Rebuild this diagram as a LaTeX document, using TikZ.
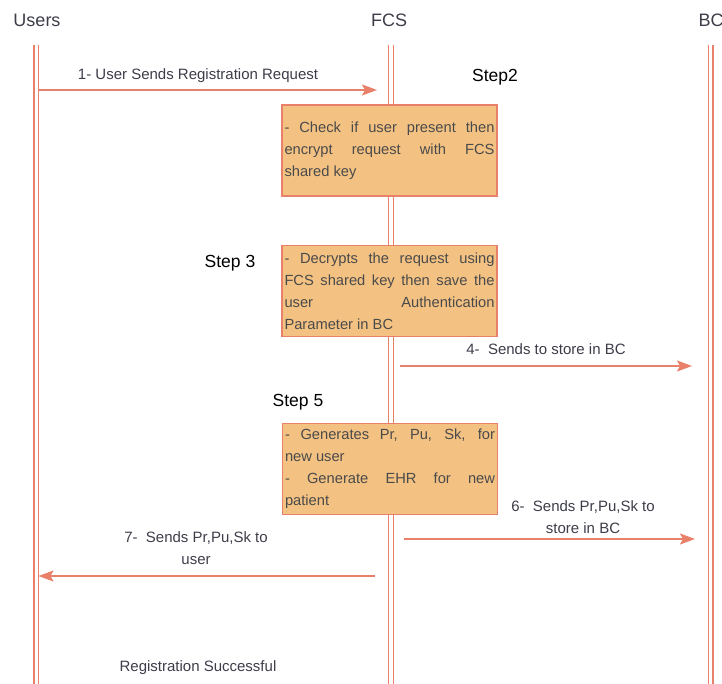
\documentclass[tikz,border=0pt]{standalone}
\usepackage{fontspec}
\setmainfont{Liberation Sans}
\usetikzlibrary{arrows.meta}
\definecolor{lineC}{HTML}{E8806A}
\definecolor{boxF}{HTML}{F3C283}
\definecolor{txtC}{HTML}{3D3D4A}
\definecolor{boxT}{HTML}{4A4A4A}
\newcommand{\jlin}[1]{\makebox[210pt][s]{#1}}
\newcommand{\llin}[1]{\makebox[210pt][l]{#1}}
\begin{document}
\begin{tikzpicture}[x=1pt,y=-1pt,
 life/.style={draw=lineC, line width=1.4pt},
 msg/.style={draw=lineC, line width=1.9pt, -{Stealth[length=15pt,width=11pt,inset=3pt]}},
 hdr/.style={font=\fontsize{18}{20}\selectfont, text=txtC, inner sep=0},
 lbl/.style={font=\fontsize{15}{22}\selectfont, text=txtC, align=center, inner sep=0},
 steplbl/.style={font=\fontsize{17.5}{20}\selectfont, text=black, inner sep=0},
 procbox/.style={draw=lineC, fill=boxF, line width=1.4pt, minimum width=215pt, minimum height=91pt, inner sep=0, align=left, font=\fontsize{14.7}{22}\selectfont, text=boxT}
]
\useasboundingbox (0,0) rectangle (722,684);
% headers
\node[hdr] (hU) at (37,20) {Users};
\node[hdr] (hF) at (389,20) {FCS};
\node[hdr] (hB) at (711,20) {BC};
% lifelines
\foreach \n/\x in {u1/34,u2/38.5,f1/388.5,f2/393.5,b1/708.5,b2/713}{
  \coordinate (\n t) at (\x,45);
  \coordinate (\n b) at (\x,684);
  \draw[life] (\n t) -- (\n b);
}
% boxes
\node[procbox] (s2) at (389.5,150.5) {\jlin{- Check if user present then}\\ \jlin{encrypt request with FCS}\\ \llin{shared key}};
\node[procbox] (s3) at (389.5,291) {\jlin{- Decrypts the request using}\\ \jlin{FCS shared key then save the}\\ \jlin{user Authentication}\\ \llin{Parameter in BC}};
\node[procbox] (s5) at (390,469) {\jlin{- Generates Pr, Pu, Sk, for}\\ \llin{new user}\\ \jlin{- Generate EHR for new}\\ \llin{patient}};
% step labels
\node[steplbl] (st2) at (495,77) {Step2};
\node[steplbl] (st3) at (230,263) {Step 3};
\node[steplbl] (st5) at (298,402) {Step 5};
% messages
\coordinate (m1s) at (38.5,90);  \coordinate (m1e) at (377,90);
\coordinate (m4s) at (400,366);  \coordinate (m4e) at (692,366);
\coordinate (m6s) at (404,539);  \coordinate (m6e) at (695,539);
\coordinate (m7s) at (375,576);  \coordinate (m7e) at (38.5,576);
\draw[msg] (m1s) -- (m1e);
\draw[msg] (m4s) -- (m4e);
\draw[msg] (m6s) -- (m6e);
\draw[msg] (m7s) -- (m7e);
\node[lbl] (l1) at (198,76) {1- User Sends Registration Request};
\node[lbl] (l4) at (546,349) {4-\ \ Sends to store in BC};
\node[lbl] (l6) at (583,517) {6-\ \ Sends Pr,Pu,Sk to\\store in BC};
\node[lbl] (l7) at (196,548) {7-\ \ Sends Pr,Pu,Sk to\\user};
\node[lbl] (l8) at (198,668) {Registration Successful};
\end{tikzpicture}
\end{document}
